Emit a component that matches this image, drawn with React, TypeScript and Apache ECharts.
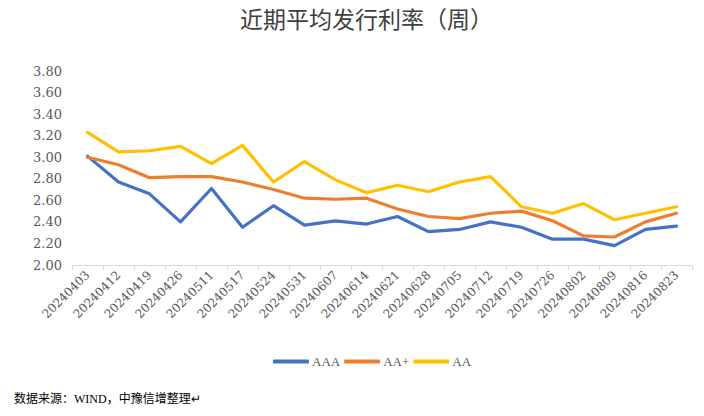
import React, { useEffect, useRef } from "react";
import * as echarts from "echarts";

const categories = [
  "20240403", "20240412", "20240419", "20240426", "20240511", "20240517", "20240524",
  "20240531", "20240607", "20240614", "20240621", "20240628", "20240705", "20240712",
  "20240719", "20240726", "20240802", "20240809", "20240816", "20240823",
];
const aaa = [3.01, 2.77, 2.66, 2.40, 2.71, 2.35, 2.55, 2.37, 2.41, 2.38, 2.45, 2.31, 2.33, 2.40, 2.35, 2.24, 2.24, 2.18, 2.33, 2.36];
const aaPlus = [3.00, 2.93, 2.81, 2.82, 2.82, 2.77, 2.70, 2.62, 2.61, 2.62, 2.52, 2.45, 2.43, 2.48, 2.50, 2.41, 2.27, 2.26, 2.40, 2.48];
const aa = [3.23, 3.05, 3.06, 3.10, 2.94, 3.11, 2.77, 2.96, 2.79, 2.67, 2.74, 2.68, 2.77, 2.82, 2.54, 2.48, 2.57, 2.42, 2.48, 2.54];

const titleText = "近期平均发行利率（周）";
const sourceText = "数据来源：WIND，中豫信增整理↵";

const wideSerif = "DejaVu Serif, Noto Sans CJK SC, serif";
const narrowSerif = "Liberation Serif, Noto Sans CJK SC, serif";

export default function App() {
  const ref = useRef<HTMLDivElement>(null);
  useEffect(() => {
    if (!ref.current) return;
    const chart = echarts.init(ref.current, undefined, { renderer: "svg" });
    const mk = (name: string, data: number[], color: string) => ({
      name,
      type: "line",
      data,
      showSymbol: false,
      symbol: "none",
      lineStyle: { width: 3.2, color, cap: "round", join: "round" },
      itemStyle: { color },
    });
    chart.setOption({
      animation: false,
      backgroundColor: "#ffffff",
      title: {
        text: titleText,
        left: 235,
        top: 4,
        textStyle: { fontFamily: narrowSerif, fontSize: 23, fontWeight: "normal", color: "#404040" },
      },
      legend: {
        top: 350,
        left: 268,
        itemWidth: 36,
        itemHeight: 4,
        itemGap: 4,
        icon: "roundRect",
        textStyle: { fontFamily: narrowSerif, fontSize: 13, color: "#595959", padding: [0, 0, 0, -2] },
        data: ["AAA", "AA+", "AA"],
      },
      grid: { left: 72, right: 12, top: 71, bottom: 151, containLabel: false },
      xAxis: {
        type: "category",
        data: categories,
        boundaryGap: true,
        axisLine: { lineStyle: { color: "#d9d9d9", width: 1 } },
        axisTick: { show: true, length: 5, lineStyle: { color: "#d9d9d9" } },
        axisLabel: { rotate: 45, interval: 0, fontFamily: wideSerif, fontSize: 12, color: "#595959", margin: 8 },
      },
      yAxis: {
        type: "value",
        min: 2,
        max: 3.8,
        interval: 0.2,
        splitLine: { show: false },
        axisLine: { show: false },
        axisTick: { show: false },
        axisLabel: {
          fontFamily: wideSerif,
          fontSize: 13,
          color: "#595959",
          margin: 10,
          formatter: (v: number) => v.toFixed(2),
        },
      },
      series: [mk("AAA", aaa, "#4472C4"), mk("AA+", aaPlus, "#ED7D31"), mk("AA", aa, "#FFC000")],
      graphic: [
        {
          type: "text",
          left: 14,
          top: 393,
          style: { text: sourceText, font: `12px ${narrowSerif}`, fill: "#000000" },
        },
      ],
    });
    return () => chart.dispose();
  }, []);
  return <div ref={ref} style={{ position: "fixed", left: 0, top: 0, width: 704, height: 416 }} />;
}
